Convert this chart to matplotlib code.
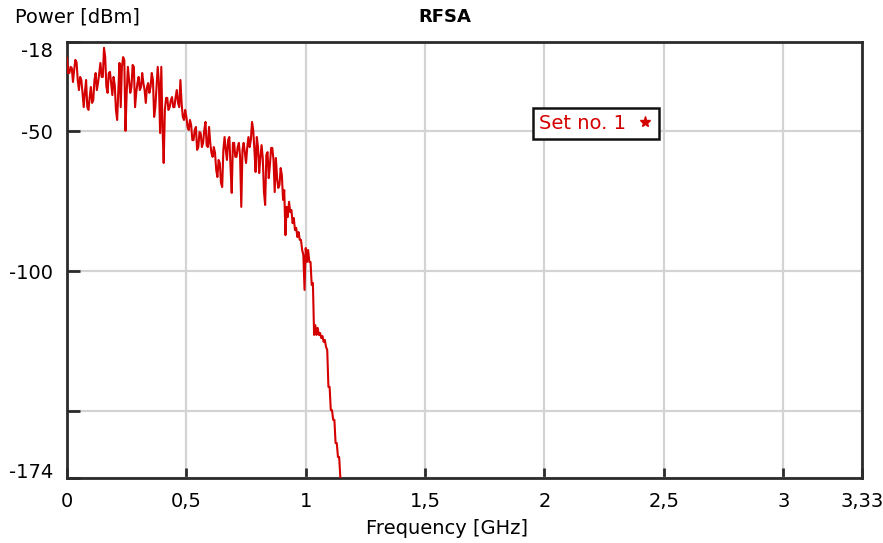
import matplotlib
matplotlib.use("Agg")
import matplotlib.pyplot as plt
from matplotlib.lines import Line2D
import numpy as np

# --- Sweep: RF spectrum analyser trace, set no. 1 ----------------------------
SWEEP_STEP_GHZ = 0.005   # analyser bin spacing

# Power readings in dBm, one per bin (two bins per 10 MHz cell, low/high pair)
power_dbm = [
    -23.7, -29.1, -29.1, -26.9, -27.3, -32.3, -28.0, -24.4, -25.2, -31.6,
    -35.2, -30.5, -31.6, -36.2, -41.3, -35.9, -31.6, -41.3, -42.3, -37.7,
    -34.1, -39.8, -38.8, -31.6, -29.1, -35.2, -32.7, -29.1, -25.5, -30.5,
    -30.5, -20.1, -23.4, -34.1, -36.2, -29.1, -28.7, -32.7, -37.0, -30.5,
    -33.4, -42.3, -45.9, -35.2, -25.5, -41.3, -26.9, -23.4, -24.4, -49.8,
    -36.2, -26.9, -31.6, -36.2, -34.1, -26.2, -26.9, -41.3, -36.2, -32.7,
    -30.5, -35.2, -34.1, -29.1, -32.7, -35.2, -39.8, -34.1, -32.7, -36.2,
    -34.1, -29.1, -31.6, -44.8, -41.3, -34.1, -26.9, -32.7, -50.6, -26.9,
    -48.4, -61.3, -42.3, -38.0, -38.0, -42.3, -41.3, -38.8, -37.7, -41.3,
    -41.3, -37.7, -35.2, -39.8, -41.3, -31.6, -39.8, -44.8, -45.9, -42.3,
    -44.8, -48.4, -49.5, -45.9, -47.7, -53.1, -53.1, -49.5, -48.4, -56.6,
    -55.6, -50.2, -50.6, -55.6, -54.1, -49.5, -46.6, -54.9, -55.6, -48.4,
    -54.1, -57.7, -59.1, -55.6, -57.7, -63.8, -66.3, -60.2, -61.3, -68.4,
    -69.9, -56.6, -52.0, -56.6, -60.2, -53.1, -52.0, -62.7, -72.0, -54.1,
    -54.1, -59.1, -59.1, -55.6, -54.1, -59.1, -77.0, -56.6, -54.1, -57.7,
    -61.3, -55.6, -52.0, -55.6, -53.1, -46.6, -49.5, -56.6, -64.5, -52.0,
    -55.6, -64.9, -59.5, -54.9, -59.5, -71.7, -76.3, -58.4, -57.4, -66.7,
    -62.0, -55.9, -55.9, -60.2, -71.7, -59.5, -66.7, -70.2, -69.2, -63.1,
    -65.6, -74.5, -71.0, -87.1, -77.0, -80.6, -75.2, -78.8, -78.1, -82.8,
    -81.0, -85.3, -84.5, -87.8, -86.0, -88.8, -88.8, -92.4, -94.2, -106.7,
    -91.7, -96.7, -92.4, -96.7, -96.7, -104.9, -104.2, -122.8, -119.3, -122.8,
    -120.3, -122.8, -122.1, -123.9, -123.2, -125.3, -124.6, -127.1, -128.2, -141.4,
    -141.4, -149.7, -149.7, -153.2, -153.2, -161.5, -161.5, -166.5, -166.5, -174.0,
]
freq_ghz = np.arange(len(power_dbm)) * SWEEP_STEP_GHZ

series_label = "Set no. 1"
x_ticks = [0, 0.5, 1, 1.5, 2, 2.5, 3, 3.33]
x_tick_labels = ["0", "0,5", "1", "1,5", "2", "2,5", "3", "3,33"]
y_ticks = [-174, -150, -100, -50, -18]
y_tick_labels = ["-174", "", "-100", "-50", "-18"]

TRACE_RED = "#d40000"
FRAME = "#2b2b2b"
GRID = "#d3d3d3"
FS = 14

plt.rcParams["font.family"] = ["DejaVu Sans"]

fig = plt.figure(figsize=(8.83, 5.43), dpi=100)
ax = fig.add_axes([67 / 883, 1 - 478 / 543, 795 / 883, 436 / 543])

ax.plot(freq_ghz, power_dbm, color=TRACE_RED, lw=1.5, zorder=3)

ax.set_xlim(0, 3.33)
ax.set_ylim(-174, -18)
ax.set_xticks(x_ticks)
ax.set_xticklabels(x_tick_labels)
ax.set_yticks(y_ticks)
ax.set_yticklabels(y_tick_labels)
ax.grid(True, color=GRID, lw=1.6, zorder=0)
ax.set_axisbelow(True)

ax.tick_params(axis="y", direction="in", length=9, width=2, color=FRAME,
               labelsize=FS, pad=10)
ax.tick_params(axis="x", direction="in", length=7, width=2, color=FRAME,
               labelsize=FS, pad=10)
for s in ax.spines.values():
    s.set_color(FRAME)
    s.set_linewidth(2)

# keep end labels inside the frame height
ylabels = ax.get_yticklabels()
ylabels[0].set_va("baseline")
ylabels[-1].set_va("top")

fig.text(15 / 883, 1 - 17 / 543, "Power [dBm]", fontsize=FS, va="center", ha="left")
fig.text(445 / 883, 1 - 17 / 543, "RFSA", fontsize=FS - 1, fontweight="bold",
         va="center", ha="center")
fig.text(447 / 883, 1 - 528 / 543, "Frequency [GHz]", fontsize=FS,
         va="center", ha="center")

handle = Line2D([], [], color=TRACE_RED, marker="*", markersize=8, linestyle="none")
leg = ax.legend([handle], [series_label], loc="upper left",
                bbox_to_anchor=(0.586, 0.849), borderaxespad=0, markerfirst=False,
                fontsize=FS, labelcolor=TRACE_RED, fancybox=False, framealpha=1,
                edgecolor="#111111", handlelength=0.8, handletextpad=0.6,
                borderpad=0.3)
leg.get_frame().set_linewidth(1.8)

fig.savefig("out.png", dpi=100)
